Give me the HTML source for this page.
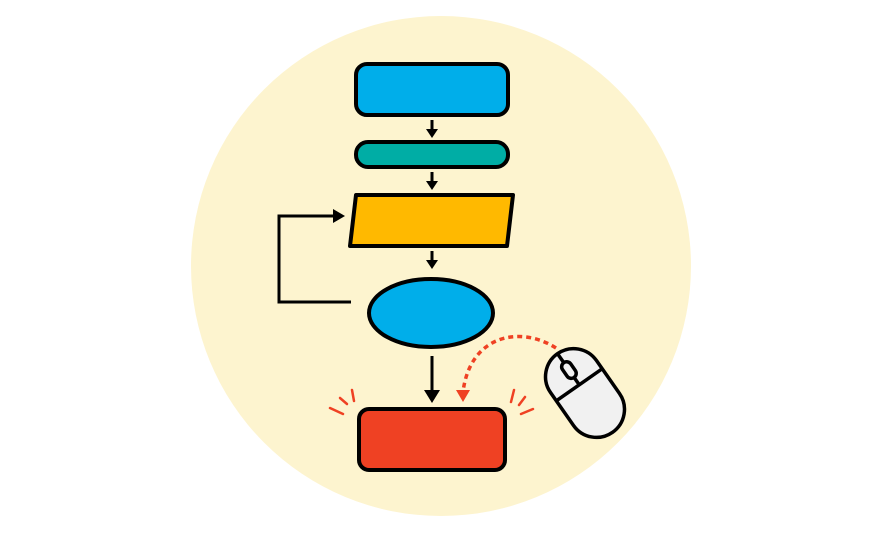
<!DOCTYPE html>
<html><head><style>body{margin:0;background:#fff}svg{display:block}</style></head><body>
<svg width="884" height="534" viewBox="0 0 884 534" xmlns="http://www.w3.org/2000/svg">
<circle cx="441" cy="266" r="250" fill="#fdf4cf"/>
<g stroke="#000" stroke-width="4" stroke-linejoin="round">
<rect x="356" y="64" width="152" height="51" rx="11" fill="#00aeea"/>
<rect x="356" y="142" width="152" height="25" rx="12" fill="#00ada5"/>
<polygon points="356,195 513,195 507,246 350,246" fill="#ffb900"/>
<ellipse cx="431" cy="313" rx="62" ry="34" fill="#00aeea"/>
<rect x="359" y="409" width="146" height="61" rx="10" fill="#ef4123"/>
</g>
<g stroke="#000" stroke-width="3" fill="none">
<line x1="432" y1="120" x2="432" y2="131"/>
<line x1="432" y1="172" x2="432" y2="183"/>
<line x1="432" y1="251" x2="432" y2="262"/>
<line x1="432" y1="356" x2="432" y2="393"/>
<polyline points="351,302 279,302 279,216 335,216"/>
</g>
<g fill="#000">
<polygon points="426,129 438,129 432,138"/>
<polygon points="426,181 438,181 432,190"/>
<polygon points="426,260 438,260 432,269"/>
<polygon points="424,390 440,390 432,403"/>
<polygon points="333,209 333,223 345,216"/>
</g>
<path d="M556,348 C520,325 470,335 463,392" stroke="#ef4123" stroke-width="3.5" fill="none" stroke-dasharray="5,4"/>
<polygon points="456,390 470,390 463,402" fill="#ef4123"/>
<g stroke="#ef4123" stroke-width="2.5" stroke-linecap="round">
<line x1="330" y1="408" x2="343" y2="414"/>
<line x1="340" y1="398" x2="347" y2="404"/>
<line x1="352" y1="390" x2="354" y2="401"/>
<line x1="514" y1="390" x2="511" y2="402"/>
<line x1="525" y1="397" x2="519" y2="405"/>
<line x1="533" y1="409" x2="521" y2="414"/>
</g>
<g transform="translate(585,393) rotate(-35)" stroke="#000" stroke-width="3.5" fill="#f1f1f1">
<rect x="-28" y="-48" width="56" height="96" rx="28"/>
<line x1="-28" y1="-10" x2="28" y2="-10"/>
<line x1="0" y1="-48" x2="0" y2="-10"/>
<rect x="-5" y="-37" width="10" height="18" rx="5"/>
</g>
</svg>
</body></html>
